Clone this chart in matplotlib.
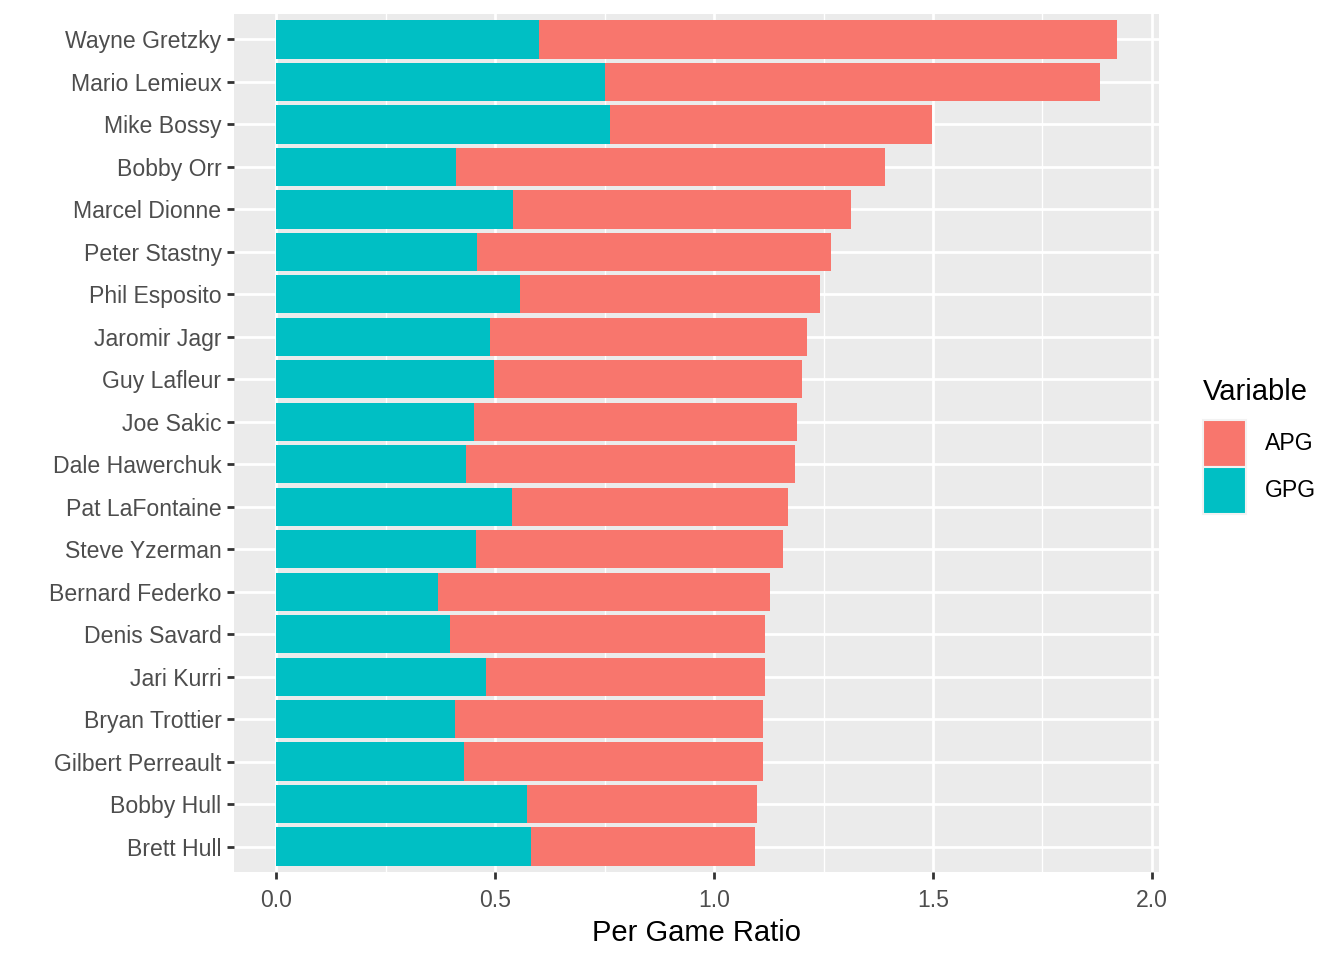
import numpy as np
import matplotlib.pyplot as plt
from matplotlib.patches import Patch
from matplotlib.ticker import MultipleLocator

plt.rcParams['font.family'] = ['Liberation Sans', 'DejaVu Sans']

players = ['Wayne Gretzky', 'Mario Lemieux', 'Mike Bossy', 'Bobby Orr', 'Marcel Dionne',
           'Peter Stastny', 'Phil Esposito', 'Jaromir Jagr', 'Guy Lafleur', 'Joe Sakic',
           'Dale Hawerchuk', 'Pat LaFontaine', 'Steve Yzerman', 'Bernard Federko',
           'Denis Savard', 'Jari Kurri', 'Bryan Trottier', 'Gilbert Perreault',
           'Bobby Hull', 'Brett Hull']
gpg = [0.601, 0.752, 0.762, 0.411, 0.541, 0.459, 0.557, 0.489, 0.498, 0.452,
       0.434, 0.539, 0.457, 0.370, 0.397, 0.479, 0.409, 0.429, 0.573, 0.582]
apg = [1.320, 1.129, 0.735, 0.979, 0.772, 0.808, 0.684, 0.723, 0.703, 0.737,
       0.751, 0.630, 0.701, 0.758, 0.719, 0.637, 0.703, 0.683, 0.525, 0.512]

c_apg = '#F8766D'
c_gpg = '#00BFC4'

fig = plt.figure(figsize=(13.44, 9.6), dpi=100)
ax = fig.add_axes([234 / 1344, 1 - 872 / 960, (1159 - 234) / 1344, (872 - 14) / 960])

y = np.arange(len(players))[::-1] + 1
gpg = np.array(gpg)
apg = np.array(apg)
ax.barh(y, gpg, height=0.9, color=c_gpg, zorder=3)
ax.barh(y, apg, left=gpg, height=0.9, color=c_apg, zorder=3)

ax.set_facecolor('#EBEBEB')
ax.set_xlim(-0.096, 2.016)
ax.set_ylim(0.4, len(players) + 0.6)
ax.xaxis.set_minor_locator(MultipleLocator(0.25))
ax.set_xticks([0.0, 0.5, 1.0, 1.5, 2.0])
ax.set_xticklabels(['0.0', '0.5', '1.0', '1.5', '2.0'])
ax.set_yticks(y)
ax.set_yticklabels(players)
ax.grid(which='major', color='white', linewidth=2.0, zorder=0)
ax.grid(which='minor', axis='x', color='white', linewidth=1.0, zorder=0)
ax.set_axisbelow(True)
for s in ax.spines.values():
    s.set_visible(False)
ax.tick_params(axis='both', which='major', length=5, width=2, color='#333333',
               labelcolor='#4D4D4D', labelsize=16.6)
ax.tick_params(axis='y', pad=4)
ax.tick_params(axis='x', pad=7)
ax.tick_params(which='minor', length=0)
ax.set_xlabel('Per Game Ratio', fontsize=21, color='black', labelpad=5)

handles = [Patch(facecolor=c_apg, edgecolor='#F2F2F2', linewidth=1.5, label='APG'),
           Patch(facecolor=c_gpg, edgecolor='#F2F2F2', linewidth=1.5, label='GPG')]
leg = fig.legend(handles=handles, title='Variable', loc='center left',
                 bbox_to_anchor=(1203 / 1344, 1 - 446 / 960), frameon=False,
                 fontsize=16.6, title_fontsize=21, handlelength=1.85, handleheight=2.75,
                 handletextpad=0.85, labelspacing=0.0, borderaxespad=0, borderpad=0)
leg._legend_box.align = 'left'
leg._legend_box.sep = 10

fig.savefig('out.png', dpi=100)
